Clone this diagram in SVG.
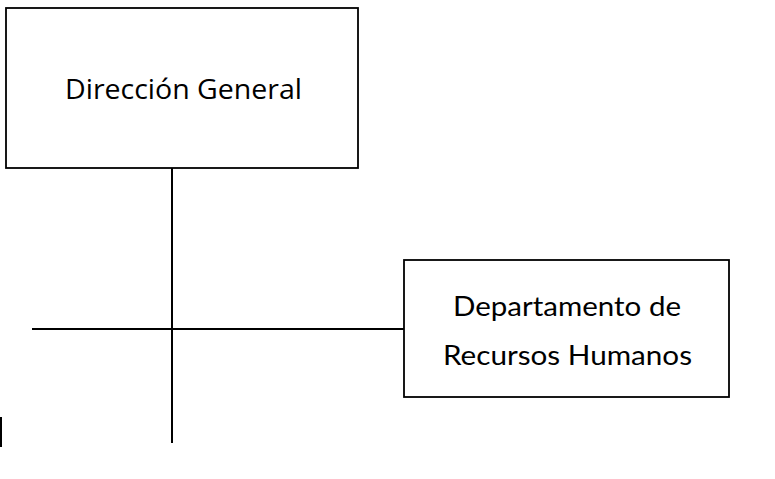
<svg xmlns="http://www.w3.org/2000/svg" width="775" height="479" viewBox="0 0 775 479">
<style>
.box{fill:#fff;stroke:#000;stroke-width:1.8}
.ln{stroke:#000;stroke-width:2;fill:none}
.t{font-family:"Open Sans","Liberation Sans",sans-serif;fill:#000;text-anchor:middle}
.t2{font-family:"Lato","Open Sans","Liberation Sans",sans-serif;fill:#000;text-anchor:middle}
</style>
<rect width="775" height="479" fill="#fff"/>
<g id="connectors">
<line class="ln" x1="172" y1="168" x2="172" y2="443"/>
<line class="ln" x1="32" y1="329" x2="404" y2="329"/>
<line class="ln" x1="1" y1="417" x2="1" y2="447"/>
</g>
<g id="direccion-general">
<rect class="box" x="6" y="8" width="352" height="160"/>
<text class="t" x="183.5" y="99" font-size="28" textLength="237" lengthAdjust="spacingAndGlyphs">Dirección General</text>
</g>
<g id="departamento-rrhh">
<rect class="box" x="404" y="260" width="325" height="137"/>
<text class="t2" x="567" y="316" font-size="27" textLength="228" lengthAdjust="spacingAndGlyphs">Departamento de</text>
<text class="t2" x="567.5" y="365" font-size="27" textLength="249" lengthAdjust="spacingAndGlyphs">Recursos Humanos</text>
</g>
</svg>
